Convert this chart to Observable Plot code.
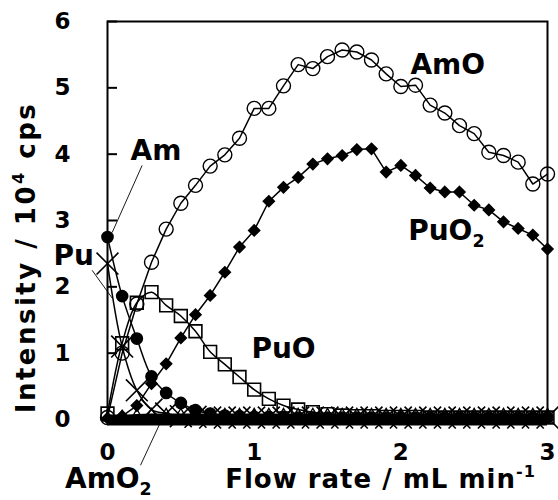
<!DOCTYPE html>
<html><head><meta charset="utf-8">
<script src="https://cdn.jsdelivr.net/npm/d3@7"></script>
<script src="https://cdn.jsdelivr.net/npm/@observablehq/plot@0.6"></script>
<style>body{margin:0;background:#fff;} #chart svg{display:block;}</style>
</head><body><div id="chart"></div>
<script>
// ---- data ----
const flowRate = [0,0.1,0.2,0.3,0.4,0.5,0.6,0.7,0.8,0.9,1.0,1.1,1.2,1.3,1.4,1.5,1.6,1.7,1.8,1.9,2.0,2.1,2.2,2.3,2.4,2.5,2.6,2.7,2.8,2.9,3.0];
const amO   = [0.03,1.00,1.74,2.37,2.87,3.26,3.53,3.82,3.99,4.24,4.69,4.69,5.03,5.35,5.29,5.47,5.57,5.54,5.42,5.21,5.02,5.04,4.74,4.62,4.43,4.31,4.03,3.98,3.88,3.55,3.70];
const puO2  = [0.02,0.05,0.21,0.54,0.84,1.23,1.58,1.87,2.22,2.60,2.85,3.29,3.50,3.65,3.85,3.93,3.98,4.07,4.08,3.73,3.83,3.68,3.49,3.43,3.43,3.23,3.16,2.98,2.88,2.78,2.57];
const puO   = [0.09,1.15,1.76,1.92,1.72,1.56,1.33,1.02,0.83,0.64,0.45,0.31,0.21,0.15,0.11,0.08,0.06,0.05,0.05,0.04,0.04,0.04,0.03,0.03,0.03,0.03,0.03,0.03,0.03,0.03,0.03];
const am    = [2.75,1.86,1.22,0.65,0.40,0.25,0.14,0.09,0.06,0.05,0.04,0.04,0.04,0.03,0.03,0.03,0.03,0.03,0.03,0.03,0.03,0.03,0.03,0.03,0.03,0.03,0.03,0.03,0.03,0.03,0.03];
const pu    = [2.35,1.10,0.44,0.15,0.09,0.05,0.04,0.03,0.03,0.03,0.03,0.03,0.03,0.03,0.03,0.03,0.03,0.03,0.03,0.03,0.03,0.03,0.03,0.03,0.03,0.03,0.03,0.03,0.03,0.03,0.03];
const amO2  = [0.02,0.05,0.07,0.08,0.08,0.08,0.08,0.08,0.08,0.08,0.08,0.08,0.08,0.08,0.08,0.08,0.08,0.08,0.08,0.08,0.08,0.08,0.08,0.08,0.08,0.08,0.08,0.08,0.08,0.08,0.08];

const xTicks = [0,1,2,3];
const yTicks = [0,1,2,3,4,5,6];
const xTitle = "Flow rate / mL min^{-1}";
const yTitle = "Intensity / 10^{4} cps";

// series annotations (data coordinates)
const labelText = ["AmO","PuO_{2}","Am","Pu","PuO","AmO_{2}"];
const labelX    = [2.32, 2.05, 0.33, -0.23, 1.20, -0.29];
const labelY    = [5.35, 2.84, 4.04, 2.47, 1.06, -0.89];
const labelAnchor = ["middle","start","middle","middle","middle","start"];
const leaderX1 = [0.236, -0.105, 0.225];
const leaderY1 = [3.83, 2.25, -0.69];
const leaderX2 = [0.032, 0.032, 0.37];
const leaderY2 = [2.82, 1.83, 0.0];

// ---- build tables ----
const rows = v => flowRate.map((x, i) => ({x, y: v[i]}));
const labels = labelText.map((t, i) => ({t, x: labelX[i], y: labelY[i], a: labelAnchor[i]}));
const leaders = leaderX1.map((_, i) => ({x1: leaderX1[i], y1: leaderY1[i], x2: leaderX2[i], y2: leaderY2[i]}));

const lineOpt = {x: "x", y: "y", stroke: "black", strokeWidth: 1.5};
const smooth = {...lineOpt, curve: "catmull-rom"};
const labelOpt = {x: "x", y: "y", text: "t", fontSize: 28, fill: "black"};

const chart = Plot.plot({
  width: 558, height: 500,
  marginLeft: 107, marginRight: 11, marginTop: 21, marginBottom: 81,
  style: {fontFamily: "DejaVu Sans", fontWeight: "bold", color: "black", background: "white", overflow: "visible"},
  x: {domain: [0, 3]},
  y: {domain: [0, 6]},
  marks: [
    Plot.axisY(yTicks, {tickSize: 10, insetLeft: 10, tickPadding: 37, fontSize: 23, strokeWidth: 2, tickFormat: "d", label: null}),
    Plot.axisX(xTicks, {tickSize: 10, insetBottom: 10, tickPadding: 24, fontSize: 23, strokeWidth: 2, tickFormat: "d", label: null}),
    Plot.line(rows(amO2), lineOpt),
    Plot.line(rows(pu), smooth),
    Plot.line(rows(am), smooth),
    Plot.line(rows(puO), smooth),
    Plot.line(rows(puO2), lineOpt),
    Plot.line(rows(amO), lineOpt),
    Plot.dot(rows(amO2), {x: "x", y: "y", symbol: "triangle2", r: 4.8, stroke: "black", strokeWidth: 1.3, fill: "none"}),
    Plot.dot(rows(pu), {x: "x", y: "y", symbol: "times", r: 10, stroke: "black", strokeWidth: 1.6}),
    Plot.dot(rows(am), {x: "x", y: "y", symbol: "circle", r: 5.6, fill: "black", stroke: "black"}),
    Plot.dot(rows(puO), {x: "x", y: "y", symbol: "square", r: 7.2, stroke: "black", strokeWidth: 1.6, fill: "none"}),
    Plot.dot(rows(puO2), {x: "x", y: "y", symbol: "diamond2", r: 5, fill: "black", stroke: "black"}),
    Plot.dot(rows(amO), {x: "x", y: "y", symbol: "circle", r: 7, stroke: "black", strokeWidth: 1.4, fill: "none"}),
    Plot.ruleY([0], {stroke: "black", strokeWidth: 11, dy: 0.5}),
    Plot.frame({stroke: "black", strokeWidth: 2}),
    Plot.link(leaders, {x1: "x1", y1: "y1", x2: "x2", y2: "y2", stroke: "black", strokeWidth: 0.9}),
    Plot.text(labels.filter(d => d.a === "middle"), {...labelOpt, textAnchor: "middle"}),
    Plot.text(labels.filter(d => d.a === "start"), {...labelOpt, textAnchor: "start"}),
    Plot.text([xTitle], {frameAnchor: "bottom", textAnchor: "middle", dx: 53, dy: 68, fontSize: 26, fill: "black"}),
    Plot.text([yTitle], {frameAnchor: "left", textAnchor: "middle", rotate: -90, dx: -81, dy: 37, fontSize: 26, fill: "black"})
  ]
});
document.getElementById("chart").appendChild(chart);

// ---- rich text: sub/superscripts ----
d3.select(chart).selectAll("text").each(function() {
  const el = this;
  const s = el.textContent;
  if (s === xTitle) el.setAttribute("letter-spacing", "1");
  if (s === yTitle) el.setAttribute("letter-spacing", "2.5");
  if (!/[_^]\{/.test(s)) return;
  const fs = parseFloat(getComputedStyle(el).fontSize);
  el.textContent = "";
  const re = /([_^])\{([^}]*)\}/g;
  let last = 0, m, shift = 0;
  const add = (txt, kind) => {
    const t = document.createElementNS("http://www.w3.org/2000/svg", "tspan");
    t.textContent = txt;
    const target = kind === "_" ? 0.26 * fs : kind === "^" ? -0.42 * fs : 0;
    t.setAttribute("dy", target - shift);
    shift = target;
    if (kind) t.setAttribute("font-size", (0.62 * fs).toFixed(1));
    el.appendChild(t);
  };
  while ((m = re.exec(s))) {
    if (m.index > last) add(s.slice(last, m.index), null);
    add(m[2], m[1]);
    last = re.lastIndex;
  }
  if (last < s.length) add(s.slice(last), null);
});
</script>
</body></html>
